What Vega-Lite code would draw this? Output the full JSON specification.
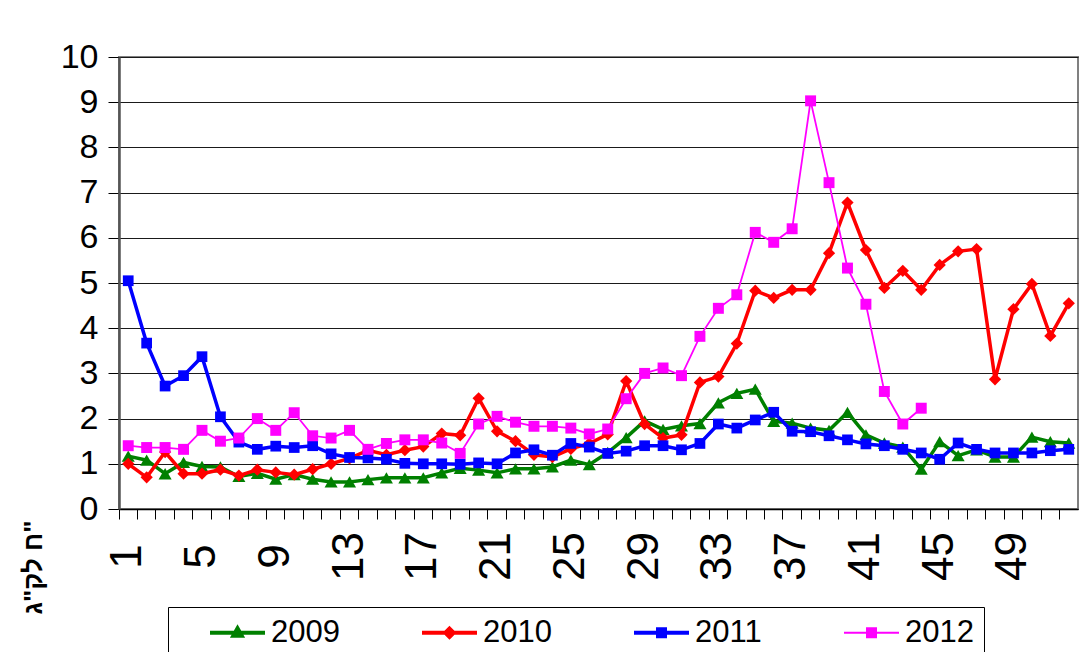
{
  "$schema": "https://vega.github.io/schema/vega-lite/v6.json",
  "width": 959,
  "height": 452,
  "autosize": {"type": "none"},
  "padding": {"left": 119, "top": 57, "right": 5, "bottom": 143},
  "background": "white",
  "config": {
    "view": {"stroke": "#808080", "strokeWidth": 2},
    "font": "Liberation Sans"
  },
  "data": {
    "values": [
      {"week": 1, "year": "2009", "value": 1.17}, {"week": 2, "year": "2009", "value": 1.08}, {"week": 3, "year": "2009", "value": 0.78}, {"week": 4, "year": "2009", "value": 1.03},
      {"week": 5, "year": "2009", "value": 0.94}, {"week": 6, "year": "2009", "value": 0.93}, {"week": 7, "year": "2009", "value": 0.72}, {"week": 8, "year": "2009", "value": 0.79},
      {"week": 9, "year": "2009", "value": 0.66}, {"week": 10, "year": "2009", "value": 0.76}, {"week": 11, "year": "2009", "value": 0.66}, {"week": 12, "year": "2009", "value": 0.6},
      {"week": 13, "year": "2009", "value": 0.6}, {"week": 14, "year": "2009", "value": 0.65}, {"week": 15, "year": "2009", "value": 0.69}, {"week": 16, "year": "2009", "value": 0.69},
      {"week": 17, "year": "2009", "value": 0.69}, {"week": 18, "year": "2009", "value": 0.8}, {"week": 19, "year": "2009", "value": 0.9}, {"week": 20, "year": "2009", "value": 0.86},
      {"week": 21, "year": "2009", "value": 0.8}, {"week": 22, "year": "2009", "value": 0.89}, {"week": 23, "year": "2009", "value": 0.89}, {"week": 24, "year": "2009", "value": 0.93},
      {"week": 25, "year": "2009", "value": 1.08}, {"week": 26, "year": "2009", "value": 0.98}, {"week": 27, "year": "2009", "value": 1.25}, {"week": 28, "year": "2009", "value": 1.58},
      {"week": 29, "year": "2009", "value": 1.95}, {"week": 30, "year": "2009", "value": 1.76}, {"week": 31, "year": "2009", "value": 1.84}, {"week": 32, "year": "2009", "value": 1.89},
      {"week": 33, "year": "2009", "value": 2.35}, {"week": 34, "year": "2009", "value": 2.56}, {"week": 35, "year": "2009", "value": 2.65}, {"week": 36, "year": "2009", "value": 1.94},
      {"week": 37, "year": "2009", "value": 1.9}, {"week": 38, "year": "2009", "value": 1.79}, {"week": 39, "year": "2009", "value": 1.74}, {"week": 40, "year": "2009", "value": 2.14},
      {"week": 41, "year": "2009", "value": 1.64}, {"week": 42, "year": "2009", "value": 1.46}, {"week": 43, "year": "2009", "value": 1.37}, {"week": 44, "year": "2009", "value": 0.88},
      {"week": 45, "year": "2009", "value": 1.49}, {"week": 46, "year": "2009", "value": 1.18}, {"week": 47, "year": "2009", "value": 1.31}, {"week": 48, "year": "2009", "value": 1.15},
      {"week": 49, "year": "2009", "value": 1.15}, {"week": 50, "year": "2009", "value": 1.59}, {"week": 51, "year": "2009", "value": 1.49}, {"week": 52, "year": "2009", "value": 1.46},

      {"week": 1, "year": "2010", "value": 1.0}, {"week": 2, "year": "2010", "value": 0.7}, {"week": 3, "year": "2010", "value": 1.26}, {"week": 4, "year": "2010", "value": 0.78},
      {"week": 5, "year": "2010", "value": 0.78}, {"week": 6, "year": "2010", "value": 0.87}, {"week": 7, "year": "2010", "value": 0.74}, {"week": 8, "year": "2010", "value": 0.87},
      {"week": 9, "year": "2010", "value": 0.81}, {"week": 10, "year": "2010", "value": 0.76}, {"week": 11, "year": "2010", "value": 0.88}, {"week": 12, "year": "2010", "value": 1.0},
      {"week": 13, "year": "2010", "value": 1.12}, {"week": 14, "year": "2010", "value": 1.3}, {"week": 15, "year": "2010", "value": 1.2}, {"week": 16, "year": "2010", "value": 1.3},
      {"week": 17, "year": "2010", "value": 1.38}, {"week": 18, "year": "2010", "value": 1.67}, {"week": 19, "year": "2010", "value": 1.63}, {"week": 20, "year": "2010", "value": 2.45},
      {"week": 21, "year": "2010", "value": 1.72}, {"week": 22, "year": "2010", "value": 1.5}, {"week": 23, "year": "2010", "value": 1.2}, {"week": 24, "year": "2010", "value": 1.15},
      {"week": 25, "year": "2010", "value": 1.33}, {"week": 26, "year": "2010", "value": 1.45}, {"week": 27, "year": "2010", "value": 1.65}, {"week": 28, "year": "2010", "value": 2.83},
      {"week": 29, "year": "2010", "value": 1.88}, {"week": 30, "year": "2010", "value": 1.57}, {"week": 31, "year": "2010", "value": 1.64}, {"week": 32, "year": "2010", "value": 2.8},
      {"week": 33, "year": "2010", "value": 2.93}, {"week": 34, "year": "2010", "value": 3.66}, {"week": 35, "year": "2010", "value": 4.83}, {"week": 36, "year": "2010", "value": 4.67},
      {"week": 37, "year": "2010", "value": 4.85}, {"week": 38, "year": "2010", "value": 4.85}, {"week": 39, "year": "2010", "value": 5.66}, {"week": 40, "year": "2010", "value": 6.78},
      {"week": 41, "year": "2010", "value": 5.73}, {"week": 42, "year": "2010", "value": 4.89}, {"week": 43, "year": "2010", "value": 5.27}, {"week": 44, "year": "2010", "value": 4.85},
      {"week": 45, "year": "2010", "value": 5.4}, {"week": 46, "year": "2010", "value": 5.7}, {"week": 47, "year": "2010", "value": 5.75}, {"week": 48, "year": "2010", "value": 2.87},
      {"week": 49, "year": "2010", "value": 4.42}, {"week": 50, "year": "2010", "value": 4.98}, {"week": 51, "year": "2010", "value": 3.83}, {"week": 52, "year": "2010", "value": 4.55},

      {"week": 1, "year": "2011", "value": 5.05}, {"week": 2, "year": "2011", "value": 3.67}, {"week": 3, "year": "2011", "value": 2.72}, {"week": 4, "year": "2011", "value": 2.95},
      {"week": 5, "year": "2011", "value": 3.37}, {"week": 6, "year": "2011", "value": 2.04}, {"week": 7, "year": "2011", "value": 1.48}, {"week": 8, "year": "2011", "value": 1.32},
      {"week": 9, "year": "2011", "value": 1.39}, {"week": 10, "year": "2011", "value": 1.36}, {"week": 11, "year": "2011", "value": 1.4}, {"week": 12, "year": "2011", "value": 1.22},
      {"week": 13, "year": "2011", "value": 1.14}, {"week": 14, "year": "2011", "value": 1.13}, {"week": 15, "year": "2011", "value": 1.1}, {"week": 16, "year": "2011", "value": 1.01},
      {"week": 17, "year": "2011", "value": 1.0}, {"week": 18, "year": "2011", "value": 1.0}, {"week": 19, "year": "2011", "value": 0.99}, {"week": 20, "year": "2011", "value": 1.02},
      {"week": 21, "year": "2011", "value": 1.0}, {"week": 22, "year": "2011", "value": 1.24}, {"week": 23, "year": "2011", "value": 1.31}, {"week": 24, "year": "2011", "value": 1.19},
      {"week": 25, "year": "2011", "value": 1.45}, {"week": 26, "year": "2011", "value": 1.37}, {"week": 27, "year": "2011", "value": 1.23}, {"week": 28, "year": "2011", "value": 1.28},
      {"week": 29, "year": "2011", "value": 1.4}, {"week": 30, "year": "2011", "value": 1.4}, {"week": 31, "year": "2011", "value": 1.31}, {"week": 32, "year": "2011", "value": 1.45},
      {"week": 33, "year": "2011", "value": 1.88}, {"week": 34, "year": "2011", "value": 1.79}, {"week": 35, "year": "2011", "value": 1.97}, {"week": 36, "year": "2011", "value": 2.14},
      {"week": 37, "year": "2011", "value": 1.72}, {"week": 38, "year": "2011", "value": 1.71}, {"week": 39, "year": "2011", "value": 1.62}, {"week": 40, "year": "2011", "value": 1.53},
      {"week": 41, "year": "2011", "value": 1.44}, {"week": 42, "year": "2011", "value": 1.4}, {"week": 43, "year": "2011", "value": 1.32}, {"week": 44, "year": "2011", "value": 1.24},
      {"week": 45, "year": "2011", "value": 1.1}, {"week": 46, "year": "2011", "value": 1.46}, {"week": 47, "year": "2011", "value": 1.32}, {"week": 48, "year": "2011", "value": 1.24},
      {"week": 49, "year": "2011", "value": 1.24}, {"week": 50, "year": "2011", "value": 1.24}, {"week": 51, "year": "2011", "value": 1.29}, {"week": 52, "year": "2011", "value": 1.32},

      {"week": 1, "year": "2012", "value": 1.4}, {"week": 2, "year": "2012", "value": 1.36}, {"week": 3, "year": "2012", "value": 1.36}, {"week": 4, "year": "2012", "value": 1.32},
      {"week": 5, "year": "2012", "value": 1.74}, {"week": 6, "year": "2012", "value": 1.5}, {"week": 7, "year": "2012", "value": 1.57}, {"week": 8, "year": "2012", "value": 2.0},
      {"week": 9, "year": "2012", "value": 1.74}, {"week": 10, "year": "2012", "value": 2.13}, {"week": 11, "year": "2012", "value": 1.62}, {"week": 12, "year": "2012", "value": 1.57},
      {"week": 13, "year": "2012", "value": 1.74}, {"week": 14, "year": "2012", "value": 1.32}, {"week": 15, "year": "2012", "value": 1.45}, {"week": 16, "year": "2012", "value": 1.53},
      {"week": 17, "year": "2012", "value": 1.53}, {"week": 18, "year": "2012", "value": 1.46}, {"week": 19, "year": "2012", "value": 1.23}, {"week": 20, "year": "2012", "value": 1.88},
      {"week": 21, "year": "2012", "value": 2.05}, {"week": 22, "year": "2012", "value": 1.92}, {"week": 23, "year": "2012", "value": 1.83}, {"week": 24, "year": "2012", "value": 1.83},
      {"week": 25, "year": "2012", "value": 1.79}, {"week": 26, "year": "2012", "value": 1.66}, {"week": 27, "year": "2012", "value": 1.77}, {"week": 28, "year": "2012", "value": 2.44},
      {"week": 29, "year": "2012", "value": 3.0}, {"week": 30, "year": "2012", "value": 3.12}, {"week": 31, "year": "2012", "value": 2.95}, {"week": 32, "year": "2012", "value": 3.82},
      {"week": 33, "year": "2012", "value": 4.44}, {"week": 34, "year": "2012", "value": 4.74}, {"week": 35, "year": "2012", "value": 6.12}, {"week": 36, "year": "2012", "value": 5.9},
      {"week": 37, "year": "2012", "value": 6.2}, {"week": 38, "year": "2012", "value": 9.03}, {"week": 39, "year": "2012", "value": 7.22}, {"week": 40, "year": "2012", "value": 5.33},
      {"week": 41, "year": "2012", "value": 4.53}, {"week": 42, "year": "2012", "value": 2.6}, {"week": 43, "year": "2012", "value": 1.88}, {"week": 44, "year": "2012", "value": 2.23}
    ]
  },
  "encoding": {
    "x": {
      "field": "week",
      "type": "ordinal",
      "scale": {"type": "band", "paddingInner": 0, "paddingOuter": 0},
      "axis": {
        "title": null,
        "bandPosition": 0,
        "domainColor": "black",
        "domainWidth": 1.5,
        "tickColor": "black",
        "tickSize": 10,
        "tickWidth": 1,
        "labelAngle": -90,
        "labelAlign": "center",
        "labelBaseline": "middle",
        "labelPadding": 37,
        "labelFontSize": 44,
        "labelFont": "Liberation Sans",
        "labelColor": "black",
        "labelOverlap": false,
        "labelBound": false,
        "labelExpr": "(datum.value - 1) % 4 === 0 ? datum.label : ''"
      }
    },
    "y": {
      "field": "value",
      "type": "quantitative",
      "scale": {"domain": [0, 10], "nice": false, "zero": true},
      "axis": {
        "values": [0, 1, 2, 3, 4, 5, 6, 7, 8, 9, 10],
        "grid": true,
        "gridColor": "#1a1a1a",
        "gridWidth": 1,
        "domainColor": "#555555",
        "domainWidth": 2.5,
        "tickColor": "black",
        "tickSize": 11,
        "labelFontSize": 34,
        "labelFont": "Liberation Sans",
        "labelColor": "black",
        "labelPadding": 10,
        "title": "ח לק\"ג\"",
        "titleFont": "Liberation Sans",
        "titleFontSize": 26,
        "titleFontWeight": "bold",
        "titleColor": "black",
        "titleAngle": -90,
        "titleAlign": "center",
        "titleBaseline": "middle",
        "titleX": -86,
        "titleY": 510
      }
    }
  },
  "layer": [
    {
      "transform": [{"filter": {"field": "year", "equal": "2009"}}],
      "mark": {"type": "line", "color": "#008000", "strokeWidth": 3.5,
               "point": {"shape": "triangle-up", "size": 170, "filled": true, "color": "#008000", "opacity": 1}}
    },
    {
      "transform": [{"filter": {"field": "year", "equal": "2010"}}],
      "mark": {"type": "line", "color": "#ff0000", "strokeWidth": 3.5,
               "point": {"shape": "diamond", "size": 150, "filled": true, "color": "#ff0000", "opacity": 1}}
    },
    {
      "transform": [{"filter": {"field": "year", "equal": "2011"}}],
      "mark": {"type": "line", "color": "#0000ff", "strokeWidth": 3.5,
               "point": {"shape": "square", "size": 115, "filled": true, "color": "#0000ff", "opacity": 1}}
    },
    {
      "transform": [{"filter": {"field": "year", "equal": "2012"}}],
      "mark": {"type": "line", "color": "#ff00ff", "strokeWidth": 1.8,
               "point": {"shape": "square", "size": 120, "filled": true, "color": "#ff00ff", "opacity": 1}}
    },
    {
      "mark": {"type": "point", "filled": true, "opacity": 0},
      "encoding": {
        "color": {
          "field": "year",
          "type": "nominal",
          "scale": {"domain": ["2009", "2010", "2011", "2012"], "range": ["#008000", "#ff0000", "#0000ff", "#ff00ff"]},
          "legend": {
            "orient": "none",
            "legendX": 49,
            "legendY": 550,
            "direction": "horizontal",
            "columns": 4,
            "title": null,
            "strokeColor": "black",
            "fillColor": "white",
            "padding": 10,
            "columnPadding": 50,
            "symbolSize": 400,
            "symbolStrokeWidth": 4,
            "symbolOpacity": 1,
            "symbolOffset": 44,
            "labelOffset": 18,
            "labelFontSize": 31,
            "labelFont": "Liberation Sans",
            "labelColor": "black",
            "encode": {
              "symbols": {
                "update": {
                  "fill": {"scale": "color", "field": "value"},
                  "stroke": {"scale": "color", "field": "value"},
                  "opacity": {"value": 1},
                  "strokeWidth": {"signal": "datum.value === '2012' ? 2 : 4"}
                }
              }
            }
          }
        },
        "shape": {
          "field": "year",
          "type": "nominal",
          "scale": {
            "domain": ["2009", "2010", "2011", "2012"],
            "range": [
              "M-2.75,0H2.75M0,-0.45L0.42,0.3L-0.42,0.3Z",
              "M-2.75,0H2.75M0,-0.42L0.42,0L0,0.42L-0.42,0Z",
              "M-2.75,0H2.75M-0.35,-0.35H0.35V0.35H-0.35Z",
              "M-2.75,0H2.75M-0.45,-0.45H0.45V0.45H-0.45Z"
            ]
          },
          "legend": {
            "orient": "none",
            "legendX": 49,
            "legendY": 550,
            "direction": "horizontal",
            "columns": 4,
            "title": null,
            "strokeColor": "black",
            "fillColor": "white",
            "padding": 10,
            "columnPadding": 50,
            "symbolSize": 400,
            "symbolStrokeWidth": 4,
            "symbolOpacity": 1,
            "symbolOffset": 44,
            "labelOffset": 18,
            "labelFontSize": 31,
            "labelFont": "Liberation Sans",
            "labelColor": "black"
          }
        }
      }
    }
  ]
}
